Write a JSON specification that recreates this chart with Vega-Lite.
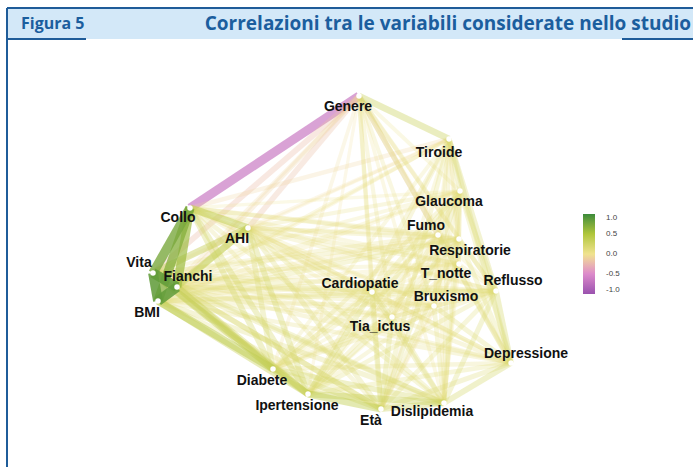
{
  "$schema": "https://vega.github.io/schema/vega-lite/v6.json",
  "padding": {"left": 6, "top": 7, "right": 0, "bottom": 0},
  "spacing": 0,
  "bounds": "flush",
  "background": "white",
  "config": {"view": {"stroke": null}},
  "datasets": {
    "nodes": [
      {"id": "Genere", "x": 0.18, "y": 1.55, "lx": 0.07, "ly": 1.44},
      {"id": "Tiroide", "x": 1.08, "y": 1.12, "lx": 0.98, "ly": 0.98},
      {"id": "Glaucoma", "x": 1.19, "y": 0.60, "lx": 1.08, "ly": 0.49},
      {"id": "Fumo", "x": 0.97, "y": 0.16, "lx": 0.85, "ly": 0.25},
      {"id": "Respiratorie", "x": 1.18, "y": 0.12, "lx": 1.29, "ly": 0.00},
      {"id": "T_notte", "x": 1.18, "y": -0.13, "lx": 1.05, "ly": -0.23},
      {"id": "Reflusso", "x": 1.55, "y": -0.40, "lx": 1.72, "ly": -0.30},
      {"id": "Bruxismo", "x": 0.93, "y": -0.55, "lx": 1.05, "ly": -0.46},
      {"id": "Cardiopatie", "x": 0.31, "y": -0.41, "lx": 0.19, "ly": -0.33},
      {"id": "Tia_ictus", "x": 0.51, "y": -0.66, "lx": 0.39, "ly": -0.76},
      {"id": "Depressione", "x": 1.70, "y": -1.12, "lx": 1.85, "ly": -1.03},
      {"id": "Dislipidemia", "x": 1.03, "y": -1.52, "lx": 0.91, "ly": -1.61},
      {"id": "Età", "x": 0.40, "y": -1.58, "lx": 0.30, "ly": -1.70},
      {"id": "Ipertensione", "x": -0.33, "y": -1.43, "lx": -0.44, "ly": -1.55},
      {"id": "Diabete", "x": -0.68, "y": -1.18, "lx": -0.79, "ly": -1.30},
      {"id": "BMI", "x": -1.83, "y": -0.50, "lx": -1.94, "ly": -0.62},
      {"id": "Fianchi", "x": -1.64, "y": -0.36, "lx": -1.53, "ly": -0.26},
      {"id": "Vita", "x": -1.88, "y": -0.22, "lx": -2.02, "ly": -0.12},
      {"id": "Collo", "x": -1.51, "y": 0.43, "lx": -1.63, "ly": 0.33},
      {"id": "AHI", "x": -0.93, "y": 0.23, "lx": -1.04, "ly": 0.12}
    ],
    "edges": [
      {"a": "Genere", "b": "Tiroide", "r": 0.28},
      {"a": "Genere", "b": "Glaucoma", "r": 0.06},
      {"a": "Genere", "b": "Fumo", "r": -0.16},
      {"a": "Genere", "b": "Respiratorie", "r": -0.05},
      {"a": "Genere", "b": "T_notte", "r": -0.04},
      {"a": "Genere", "b": "Reflusso", "r": 0.12},
      {"a": "Genere", "b": "Bruxismo", "r": 0.08},
      {"a": "Genere", "b": "Cardiopatie", "r": 0.1},
      {"a": "Genere", "b": "Tia_ictus", "r": 0.08},
      {"a": "Genere", "b": "Depressione", "r": 0.15},
      {"a": "Genere", "b": "Dislipidemia", "r": 0.05},
      {"a": "Genere", "b": "Età", "r": 0.07},
      {"a": "Genere", "b": "Ipertensione", "r": -0.04},
      {"a": "Genere", "b": "Diabete", "r": -0.06},
      {"a": "Genere", "b": "BMI", "r": -0.08},
      {"a": "Genere", "b": "Fianchi", "r": -0.12},
      {"a": "Genere", "b": "Vita", "r": -0.22},
      {"a": "Genere", "b": "Collo", "r": -0.64},
      {"a": "Genere", "b": "AHI", "r": -0.2},
      {"a": "Tiroide", "b": "Glaucoma", "r": 0.15},
      {"a": "Tiroide", "b": "Fumo", "r": 0.06},
      {"a": "Tiroide", "b": "Respiratorie", "r": 0.08},
      {"a": "Tiroide", "b": "T_notte", "r": 0.05},
      {"a": "Tiroide", "b": "Reflusso", "r": 0.18},
      {"a": "Tiroide", "b": "Bruxismo", "r": 0.07},
      {"a": "Tiroide", "b": "Cardiopatie", "r": 0.1},
      {"a": "Tiroide", "b": "Tia_ictus", "r": 0.06},
      {"a": "Tiroide", "b": "Depressione", "r": 0.16},
      {"a": "Tiroide", "b": "Dislipidemia", "r": 0.1},
      {"a": "Tiroide", "b": "Età", "r": 0.12},
      {"a": "Tiroide", "b": "Ipertensione", "r": 0.1},
      {"a": "Tiroide", "b": "Diabete", "r": 0.06},
      {"a": "Tiroide", "b": "BMI", "r": 0.05},
      {"a": "Tiroide", "b": "Fianchi", "r": 0.07},
      {"a": "Tiroide", "b": "Vita", "r": -0.04},
      {"a": "Tiroide", "b": "Collo", "r": -0.1},
      {"a": "Tiroide", "b": "AHI", "r": -0.05},
      {"a": "Glaucoma", "b": "Fumo", "r": 0.05},
      {"a": "Glaucoma", "b": "Respiratorie", "r": 0.1},
      {"a": "Glaucoma", "b": "T_notte", "r": 0.04},
      {"a": "Glaucoma", "b": "Reflusso", "r": 0.12},
      {"a": "Glaucoma", "b": "Bruxismo", "r": 0.08},
      {"a": "Glaucoma", "b": "Cardiopatie", "r": 0.12},
      {"a": "Glaucoma", "b": "Tia_ictus", "r": 0.1},
      {"a": "Glaucoma", "b": "Depressione", "r": 0.12},
      {"a": "Glaucoma", "b": "Dislipidemia", "r": 0.12},
      {"a": "Glaucoma", "b": "Età", "r": 0.15},
      {"a": "Glaucoma", "b": "Ipertensione", "r": 0.12},
      {"a": "Glaucoma", "b": "Diabete", "r": 0.1},
      {"a": "Glaucoma", "b": "BMI", "r": 0.05},
      {"a": "Glaucoma", "b": "Fianchi", "r": 0.06},
      {"a": "Glaucoma", "b": "Vita", "r": 0.06},
      {"a": "Glaucoma", "b": "Collo", "r": 0.04},
      {"a": "Glaucoma", "b": "AHI", "r": 0.08},
      {"a": "Fumo", "b": "Respiratorie", "r": 0.1},
      {"a": "Fumo", "b": "T_notte", "r": 0.04},
      {"a": "Fumo", "b": "Reflusso", "r": 0.06},
      {"a": "Fumo", "b": "Bruxismo", "r": 0.05},
      {"a": "Fumo", "b": "Cardiopatie", "r": 0.06},
      {"a": "Fumo", "b": "Tia_ictus", "r": 0.05},
      {"a": "Fumo", "b": "Depressione", "r": 0.08},
      {"a": "Fumo", "b": "Dislipidemia", "r": 0.05},
      {"a": "Fumo", "b": "Età", "r": -0.06},
      {"a": "Fumo", "b": "Ipertensione", "r": 0.03},
      {"a": "Fumo", "b": "Diabete", "r": 0.04},
      {"a": "Fumo", "b": "BMI", "r": 0.06},
      {"a": "Fumo", "b": "Fianchi", "r": 0.05},
      {"a": "Fumo", "b": "Vita", "r": 0.08},
      {"a": "Fumo", "b": "Collo", "r": 0.1},
      {"a": "Fumo", "b": "AHI", "r": 0.06},
      {"a": "Respiratorie", "b": "T_notte", "r": 0.06},
      {"a": "Respiratorie", "b": "Reflusso", "r": 0.1},
      {"a": "Respiratorie", "b": "Bruxismo", "r": 0.06},
      {"a": "Respiratorie", "b": "Cardiopatie", "r": 0.1},
      {"a": "Respiratorie", "b": "Tia_ictus", "r": 0.06},
      {"a": "Respiratorie", "b": "Depressione", "r": 0.12},
      {"a": "Respiratorie", "b": "Dislipidemia", "r": 0.08},
      {"a": "Respiratorie", "b": "Età", "r": 0.1},
      {"a": "Respiratorie", "b": "Ipertensione", "r": 0.1},
      {"a": "Respiratorie", "b": "Diabete", "r": 0.08},
      {"a": "Respiratorie", "b": "BMI", "r": 0.12},
      {"a": "Respiratorie", "b": "Fianchi", "r": 0.1},
      {"a": "Respiratorie", "b": "Vita", "r": 0.1},
      {"a": "Respiratorie", "b": "Collo", "r": 0.08},
      {"a": "Respiratorie", "b": "AHI", "r": 0.1},
      {"a": "T_notte", "b": "Reflusso", "r": 0.06},
      {"a": "T_notte", "b": "Bruxismo", "r": 0.08},
      {"a": "T_notte", "b": "Cardiopatie", "r": 0.04},
      {"a": "T_notte", "b": "Tia_ictus", "r": 0.05},
      {"a": "T_notte", "b": "Depressione", "r": 0.08},
      {"a": "T_notte", "b": "Dislipidemia", "r": 0.05},
      {"a": "T_notte", "b": "Età", "r": -0.05},
      {"a": "T_notte", "b": "Ipertensione", "r": 0.03},
      {"a": "T_notte", "b": "Diabete", "r": 0.04},
      {"a": "T_notte", "b": "BMI", "r": 0.06},
      {"a": "T_notte", "b": "Fianchi", "r": 0.05},
      {"a": "T_notte", "b": "Vita", "r": 0.06},
      {"a": "T_notte", "b": "Collo", "r": 0.06},
      {"a": "T_notte", "b": "AHI", "r": 0.1},
      {"a": "Reflusso", "b": "Bruxismo", "r": 0.1},
      {"a": "Reflusso", "b": "Cardiopatie", "r": 0.1},
      {"a": "Reflusso", "b": "Tia_ictus", "r": 0.08},
      {"a": "Reflusso", "b": "Depressione", "r": 0.22},
      {"a": "Reflusso", "b": "Dislipidemia", "r": 0.16},
      {"a": "Reflusso", "b": "Età", "r": 0.12},
      {"a": "Reflusso", "b": "Ipertensione", "r": 0.12},
      {"a": "Reflusso", "b": "Diabete", "r": 0.1},
      {"a": "Reflusso", "b": "BMI", "r": 0.12},
      {"a": "Reflusso", "b": "Fianchi", "r": 0.12},
      {"a": "Reflusso", "b": "Vita", "r": 0.1},
      {"a": "Reflusso", "b": "Collo", "r": 0.06},
      {"a": "Reflusso", "b": "AHI", "r": 0.08},
      {"a": "Bruxismo", "b": "Cardiopatie", "r": 0.06},
      {"a": "Bruxismo", "b": "Tia_ictus", "r": 0.08},
      {"a": "Bruxismo", "b": "Depressione", "r": 0.14},
      {"a": "Bruxismo", "b": "Dislipidemia", "r": 0.12},
      {"a": "Bruxismo", "b": "Età", "r": 0.06},
      {"a": "Bruxismo", "b": "Ipertensione", "r": 0.08},
      {"a": "Bruxismo", "b": "Diabete", "r": 0.06},
      {"a": "Bruxismo", "b": "BMI", "r": 0.08},
      {"a": "Bruxismo", "b": "Fianchi", "r": 0.08},
      {"a": "Bruxismo", "b": "Vita", "r": 0.08},
      {"a": "Bruxismo", "b": "Collo", "r": 0.05},
      {"a": "Bruxismo", "b": "AHI", "r": 0.06},
      {"a": "Cardiopatie", "b": "Tia_ictus", "r": 0.15},
      {"a": "Cardiopatie", "b": "Depressione", "r": 0.1},
      {"a": "Cardiopatie", "b": "Dislipidemia", "r": 0.15},
      {"a": "Cardiopatie", "b": "Età", "r": 0.18},
      {"a": "Cardiopatie", "b": "Ipertensione", "r": 0.18},
      {"a": "Cardiopatie", "b": "Diabete", "r": 0.12},
      {"a": "Cardiopatie", "b": "BMI", "r": 0.1},
      {"a": "Cardiopatie", "b": "Fianchi", "r": 0.1},
      {"a": "Cardiopatie", "b": "Vita", "r": 0.12},
      {"a": "Cardiopatie", "b": "Collo", "r": 0.1},
      {"a": "Cardiopatie", "b": "AHI", "r": 0.1},
      {"a": "Tia_ictus", "b": "Depressione", "r": 0.1},
      {"a": "Tia_ictus", "b": "Dislipidemia", "r": 0.14},
      {"a": "Tia_ictus", "b": "Età", "r": 0.16},
      {"a": "Tia_ictus", "b": "Ipertensione", "r": 0.14},
      {"a": "Tia_ictus", "b": "Diabete", "r": 0.1},
      {"a": "Tia_ictus", "b": "BMI", "r": 0.06},
      {"a": "Tia_ictus", "b": "Fianchi", "r": 0.06},
      {"a": "Tia_ictus", "b": "Vita", "r": 0.08},
      {"a": "Tia_ictus", "b": "Collo", "r": 0.06},
      {"a": "Tia_ictus", "b": "AHI", "r": 0.08},
      {"a": "Depressione", "b": "Dislipidemia", "r": 0.22},
      {"a": "Depressione", "b": "Età", "r": 0.15},
      {"a": "Depressione", "b": "Ipertensione", "r": 0.12},
      {"a": "Depressione", "b": "Diabete", "r": 0.1},
      {"a": "Depressione", "b": "BMI", "r": 0.1},
      {"a": "Depressione", "b": "Fianchi", "r": 0.1},
      {"a": "Depressione", "b": "Vita", "r": 0.08},
      {"a": "Depressione", "b": "Collo", "r": 0.03},
      {"a": "Depressione", "b": "AHI", "r": 0.06},
      {"a": "Dislipidemia", "b": "Età", "r": 0.25},
      {"a": "Dislipidemia", "b": "Ipertensione", "r": 0.3},
      {"a": "Dislipidemia", "b": "Diabete", "r": 0.22},
      {"a": "Dislipidemia", "b": "BMI", "r": 0.15},
      {"a": "Dislipidemia", "b": "Fianchi", "r": 0.15},
      {"a": "Dislipidemia", "b": "Vita", "r": 0.16},
      {"a": "Dislipidemia", "b": "Collo", "r": 0.12},
      {"a": "Dislipidemia", "b": "AHI", "r": 0.12},
      {"a": "Età", "b": "Ipertensione", "r": 0.35},
      {"a": "Età", "b": "Diabete", "r": 0.22},
      {"a": "Età", "b": "BMI", "r": 0.12},
      {"a": "Età", "b": "Fianchi", "r": 0.15},
      {"a": "Età", "b": "Vita", "r": 0.18},
      {"a": "Età", "b": "Collo", "r": 0.1},
      {"a": "Età", "b": "AHI", "r": 0.15},
      {"a": "Ipertensione", "b": "Diabete", "r": 0.32},
      {"a": "Ipertensione", "b": "BMI", "r": 0.3},
      {"a": "Ipertensione", "b": "Fianchi", "r": 0.26},
      {"a": "Ipertensione", "b": "Vita", "r": 0.3},
      {"a": "Ipertensione", "b": "Collo", "r": 0.22},
      {"a": "Ipertensione", "b": "AHI", "r": 0.22},
      {"a": "Diabete", "b": "BMI", "r": 0.4},
      {"a": "Diabete", "b": "Fianchi", "r": 0.3},
      {"a": "Diabete", "b": "Vita", "r": 0.34},
      {"a": "Diabete", "b": "Collo", "r": 0.22},
      {"a": "Diabete", "b": "AHI", "r": 0.18},
      {"a": "BMI", "b": "Fianchi", "r": 0.85},
      {"a": "BMI", "b": "Vita", "r": 0.85},
      {"a": "BMI", "b": "Collo", "r": 0.7},
      {"a": "BMI", "b": "AHI", "r": 0.32},
      {"a": "Fianchi", "b": "Vita", "r": 0.85},
      {"a": "Fianchi", "b": "Collo", "r": 0.6},
      {"a": "Fianchi", "b": "AHI", "r": 0.3},
      {"a": "Vita", "b": "Collo", "r": 0.75},
      {"a": "Vita", "b": "AHI", "r": 0.34},
      {"a": "Collo", "b": "AHI", "r": 0.38}
    ]
  },
  "vconcat": [
    {
      "width": 687,
      "height": 31,
      "view": {"fill": "#d3e8f8", "stroke": null},
      "layer": [
        {
          "data": {"values": [{"t": "Figura 5"}]},
          "mark": {"type": "text", "align": "left", "baseline": "middle", "font": "Open Sans", "fontSize": 16, "fontWeight": "bold", "color": "#1b5e9e"},
          "encoding": {"text": {"field": "t"}, "x": {"value": 14}, "y": {"value": 16}}
        },
        {
          "data": {"values": [{"t": "Correlazioni tra le variabili considerate nello studio"}]},
          "mark": {"type": "text", "align": "right", "baseline": "middle", "font": "Open Sans", "fontSize": 19, "fontWeight": "bold", "color": "#1b5e9e"},
          "encoding": {"text": {"field": "t"}, "x": {"value": 684}, "y": {"value": 16}}
        },
        {
          "data": {"values": [{}]},
          "mark": {"type": "rule", "color": "#1f5c99", "strokeWidth": 2},
          "encoding": {"x": {"value": 0}, "x2": {"value": 687}, "y": {"value": 0}}
        },
        {
          "data": {"values": [{}]},
          "mark": {"type": "rule", "color": "#1f5c99", "strokeWidth": 2},
          "encoding": {"x": {"value": 0}, "y": {"value": 0}, "y2": {"value": 31}}
        },
        {
          "data": {"values": [{}]},
          "mark": {"type": "rule", "color": "#1f5c99", "strokeWidth": 2},
          "encoding": {"x": {"value": 0}, "x2": {"value": 79}, "y": {"value": 31}}
        },
        {
          "data": {"values": [{}]},
          "mark": {"type": "rule", "color": "#1f5c99", "strokeWidth": 2},
          "encoding": {"x": {"value": 615}, "x2": {"value": 687}, "y": {"value": 31}}
        }
      ]
    },
    {
      "width": 687,
      "height": 429,
      "layer": [
        {
          "data": {"name": "edges"},
          "transform": [
            {"lookup": "a", "from": {"data": {"name": "nodes"}, "key": "id", "fields": ["x", "y"]}, "as": ["xa", "ya"]},
            {"lookup": "b", "from": {"data": {"name": "nodes"}, "key": "id", "fields": ["x", "y"]}, "as": ["xb", "yb"]}
          ],
          "mark": {"type": "rule", "strokeCap": "butt"},
          "encoding": {
            "x": {"field": "xa", "type": "quantitative", "scale": {"domain": [-3.34, 3.53], "nice": false, "zero": false}, "axis": null},
            "y": {"field": "ya", "type": "quantitative", "scale": {"domain": [-2.17, 2.12], "nice": false, "zero": false}, "axis": null},
            "x2": {"field": "xb"},
            "y2": {"field": "yb"},
            "color": {
              "field": "r", "type": "quantitative",
              "scale": {"domain": [-1, -0.5, 0, 0.5, 1], "range": ["#9a52ae", "#dc8acb", "#f0e38e", "#b0c63a", "#3b8b3b"], "interpolate": "lab"},
              "legend": {"orient": "none", "legendX": 576, "legendY": 206, "title": null, "values": [1, 0.5, 0, -0.5, -1], "format": ".1f", "labelExpr": "replace(datum.label, '−', '-')", "gradientLength": 80, "gradientThickness": 12, "gradientStrokeWidth": 0, "direction": "vertical", "labelFontSize": 8, "labelFont": "Liberation Sans", "labelColor": "#444444", "labelBaseline": "middle", "labelOffset": 11}
            },
            "strokeWidth": {
              "field": "r", "type": "quantitative",
              "scale": {"domain": [-1, -0.75, -0.5, -0.3, -0.15, -0.05, 0, 0.05, 0.15, 0.3, 0.5, 0.75, 1], "range": [10.5, 9.4, 8.2, 6.6, 5.1, 3.7, 1.5, 3.7, 5.1, 6.6, 8.2, 9.4, 10.5]},
              "legend": null
            },
            "opacity": {
              "field": "r", "type": "quantitative",
              "scale": {"domain": [-1, 0, 1], "range": [1, 0.17, 1]},
              "legend": null
            },
            "order": {"field": "r", "type": "quantitative"}
          }
        },
        {
          "data": {"name": "nodes"},
          "mark": {"type": "point", "filled": true, "color": "white", "opacity": 1, "size": 30},
          "encoding": {
            "x": {"field": "x", "type": "quantitative"},
            "y": {"field": "y", "type": "quantitative"}
          }
        },
        {
          "data": {"name": "nodes"},
          "mark": {"type": "text", "font": "Liberation Sans", "fontSize": 14, "fontWeight": "bold", "color": "#111111", "align": "center", "baseline": "middle"},
          "encoding": {
            "x": {"field": "lx", "type": "quantitative"},
            "y": {"field": "ly", "type": "quantitative"},
            "text": {"field": "id"}
          }
        },
        {
          "data": {"values": [{}]},
          "mark": {"type": "rule", "color": "#1f5c99", "strokeWidth": 2},
          "encoding": {"x": {"value": 0}, "y": {"value": 0}, "y2": {"value": 429}}
        }
      ]
    }
  ]
}
